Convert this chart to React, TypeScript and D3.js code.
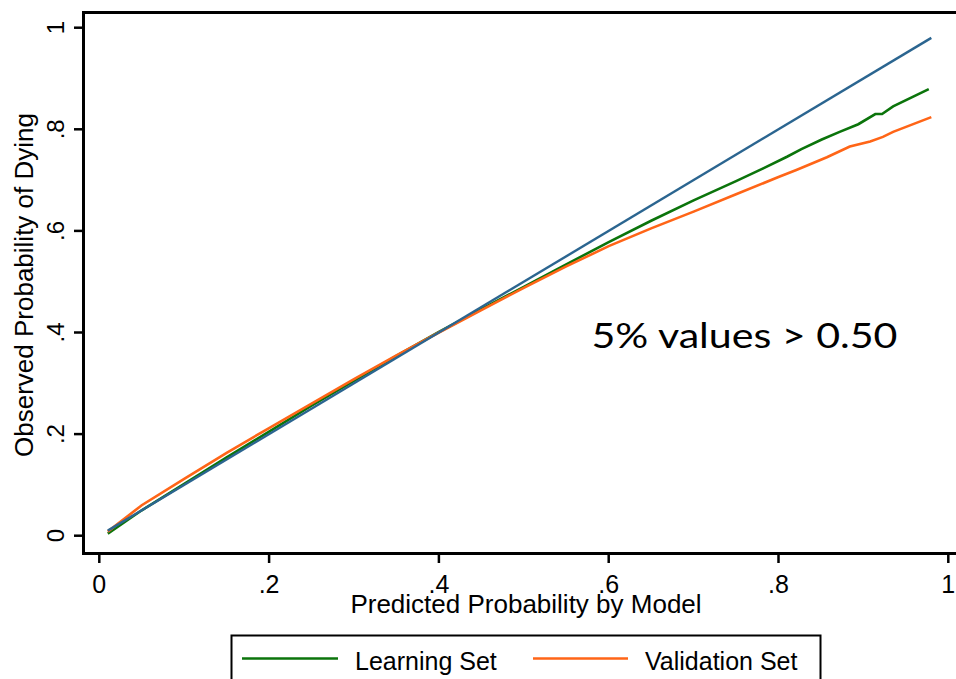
import React from "react";
import * as d3 from "d3";

const ticks = [0, 0.2, 0.4, 0.6, 0.8, 1];
const tickLabels = ["0", ".2", ".4", ".6", ".8", "1"];

const diagX = [0.01, 0.98];

const learnX = [0.01, 0.05, 0.1, 0.15, 0.2, 0.25, 0.3, 0.35, 0.4, 0.45, 0.5, 0.55, 0.6, 0.65, 0.7, 0.75, 0.782, 0.81, 0.827, 0.851, 0.872, 0.894, 0.914, 0.922, 0.935, 0.977];
const learnY = [0.004, 0.05, 0.102, 0.154, 0.205, 0.256, 0.305, 0.354, 0.401, 0.446, 0.49, 0.534, 0.578, 0.62, 0.66, 0.698, 0.723, 0.746, 0.761, 0.78, 0.795, 0.81, 0.83, 0.83, 0.845, 0.879];

const validX = [0.01, 0.05, 0.1, 0.15, 0.2, 0.25, 0.3, 0.35, 0.4, 0.45, 0.5, 0.55, 0.6, 0.65, 0.7, 0.75, 0.8, 0.821, 0.857, 0.884, 0.908, 0.923, 0.935, 0.98];
const validY = [0.008, 0.06, 0.112, 0.163, 0.212, 0.26, 0.308, 0.355, 0.4, 0.444, 0.488, 0.53, 0.57, 0.605, 0.638, 0.672, 0.706, 0.72, 0.745, 0.766, 0.776, 0.785, 0.795, 0.824];

const seriesNames = ["Learning Set", "Validation Set"];
const annotation = "5% values > 0.50";

const W = 956;
const H = 679;
const FONT = "'Liberation Sans', Arial, sans-serif";

export default function App() {
  const x = d3.scaleLinear().domain([0, 1]).range([99.3, 948.3]);
  const y = d3.scaleLinear().domain([0, 1]).range([535.7, 27.7]);
  const line = d3
    .line<[number, number]>()
    .x((d) => x(d[0]))
    .y((d) => y(d[1]));

  const diag = line(diagX.map((v) => [v, v] as [number, number])) || "";
  const learn = line(learnX.map((v, i) => [v, learnY[i]] as [number, number])) || "";
  const valid = line(validX.map((v, i) => [v, validY[i]] as [number, number])) || "";

  const green = "#0b740b";
  const orange = "#ff6517";
  const blue = "#2b6590";

  return (
    <svg
      width={W}
      height={H}
      style={{ position: "absolute", left: 0, top: 0, background: "#fff" }}
      fontFamily={FONT}
    >
      <rect x={0} y={0} width={W} height={H} fill="#fff" />
      {/* frame */}
      <path d={`M962,12.5 H83.5 V553.5 H962`} fill="none" stroke="#000" strokeWidth={3} />
      {/* y ticks */}
      {ticks.map((t, i) => (
        <g key={"y" + i}>
          <line x1={74} x2={83} y1={y(t)} y2={y(t)} stroke="#000" strokeWidth={2.5} />
          <text
            transform={`translate(64,${y(t)}) rotate(-90)`}
            textAnchor="middle"
            fontSize={24}
            fill="#000"
          >
            {tickLabels[i]}
          </text>
        </g>
      ))}
      {/* x ticks */}
      {ticks.map((t, i) => (
        <g key={"x" + i}>
          <line x1={x(t)} x2={x(t)} y1={554} y2={563} stroke="#000" strokeWidth={2.5} />
          <text x={x(t)} y={592.5} textAnchor="middle" fontSize={25} fill="#000">
            {tickLabels[i]}
          </text>
        </g>
      ))}
      <text
        transform={`translate(32.5,285) rotate(-90)`}
        textAnchor="middle"
        fontSize={26}
        fill="#000"
      >
        Observed Probability of Dying
      </text>
      <text x={526} y={613} textAnchor="middle" fontSize={26} fill="#000">
        Predicted Probability by Model
      </text>

      {/* series */}
      <path d={learn} fill="none" stroke={green} strokeWidth={2.6} />
      <path d={valid} fill="none" stroke={orange} strokeWidth={2.6} />
      <path d={diag} fill="none" stroke={blue} strokeWidth={2.4} />

      <text
        x={591.5}
        y={348}
        fontSize={35}
        fill="#000"
        fontFamily="Lato, 'Open Sans', sans-serif"
        textLength={306}
        lengthAdjust="spacingAndGlyphs"
      >
        {annotation}
      </text>

      {/* legend */}
      <rect x={231.5} y={635.5} width={589} height={60} fill="#fff" stroke="#000" strokeWidth={2} />
      <line x1={242} x2={338} y1={658.5} y2={658.5} stroke={green} strokeWidth={2.6} />
      <text x={355} y={670} fontSize={25} fill="#000">
        {seriesNames[0]}
      </text>
      <line x1={533} x2={628} y1={658.5} y2={658.5} stroke={orange} strokeWidth={2.6} />
      <text x={645} y={670} fontSize={25} fill="#000">
        {seriesNames[1]}
      </text>
    </svg>
  );
}
